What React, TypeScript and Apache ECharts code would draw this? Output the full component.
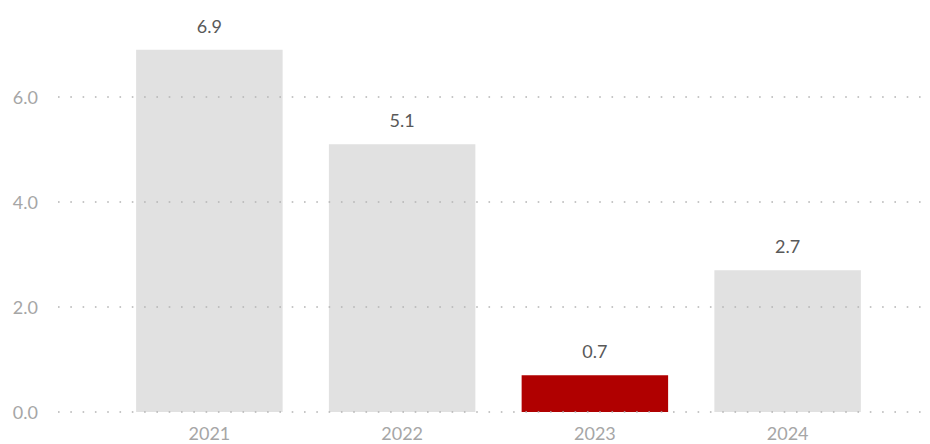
import React, { useEffect, useRef } from "react";
import * as echarts from "echarts";

const categories = ["2021", "2022", "2023", "2024"];
const values = [6.9, 5.1, 0.7, 2.7];
const highlightCategory = "2023";
const yTicks = [0, 2, 4, 6];

export default function App() {
  const ref = useRef<HTMLDivElement>(null);
  useEffect(() => {
    if (!ref.current) return;
    const chart = echarts.init(ref.current, null, { renderer: "svg" });
    const font = "Lato, 'Open Sans', sans-serif";
    const yMin = 0;
    const yMax = 7.85;
    const yInterval = yTicks[1] - yTicks[0];
    const tickSet = new Set(yTicks.map((t) => t.toFixed(1)));
    chart.setOption({
      animation: false,
      backgroundColor: "#ffffff",
      grid: [
        { left: 58, right: 0, top: 0, bottom: 32, containLabel: false },
        { left: 113, right: 46, top: 0, bottom: 32, containLabel: false },
      ],
      xAxis: [
        { gridIndex: 0, type: "value", show: false, min: 0, max: 1 },
        {
          gridIndex: 1,
          type: "category",
          data: categories,
          axisLine: { show: false },
          axisTick: { show: false },
          axisLabel: { color: "#a6a6a6", fontSize: 18, fontFamily: font, margin: 12 },
        },
      ],
      yAxis: [
        {
          gridIndex: 0,
          type: "value",
          min: yMin,
          max: yMax,
          interval: yInterval,
          axisLine: { show: false },
          axisTick: { show: false },
          axisLabel: {
            color: "#a6a6a6",
            fontSize: 18,
            fontFamily: font,
            margin: 20,
            formatter: (v: number) => (tickSet.has(v.toFixed(1)) ? v.toFixed(1) : ""),
          },
          splitLine: { show: false },
        },
        {
          gridIndex: 1,
          type: "value",
          min: yMin,
          max: yMax,
          interval: yInterval,
          show: false,
          splitLine: { show: false },
        },
      ],
      series: [
        {
          type: "bar",
          xAxisIndex: 1,
          yAxisIndex: 1,
          barCategoryGap: "24%",
          z: 1,
          data: values.map((v, i) => ({
            value: v,
            itemStyle: { color: categories[i] === highlightCategory ? "#b00000" : "#e1e1e1" },
          })),
          label: {
            show: true,
            position: "top",
            distance: 15,
            color: "#595959",
            fontSize: 18,
            fontFamily: font,
            formatter: (p: any) => Number(p.value).toFixed(1),
          },
        },
        {
          type: "line",
          xAxisIndex: 0,
          yAxisIndex: 0,
          data: [],
          z: 20,
          silent: true,
          markLine: {
            silent: true,
            symbol: ["none", "none"],
            label: { show: false },
            z: 20,
            lineStyle: { color: "#b4b4b4", width: 1.6, type: [1.6, 10.7] },
            data: yTicks.map((t) => ({ yAxis: t })),
          },
        },
      ],
    });
    return () => chart.dispose();
  }, []);
  return (
    <div
      ref={ref}
      style={{ position: "fixed", left: 0, top: 0, width: 930, height: 444 }}
    />
  );
}
